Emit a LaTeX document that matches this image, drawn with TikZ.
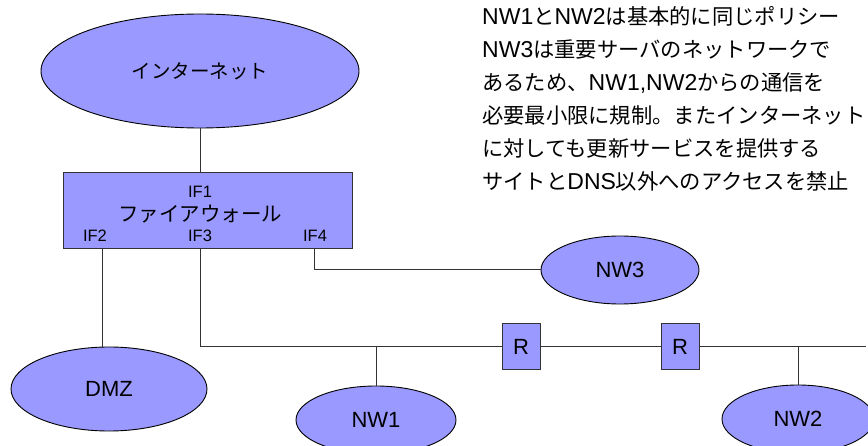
\documentclass[tikz,border=0pt]{standalone}
\usepackage{fontspec}
\setmainfont{Liberation Sans}
\newfontfamily\jp{Noto Sans CJK JP}
\newfontfamily\jpn{Noto Sans CJK JP}[Scale=0.926]
\usetikzlibrary{shapes.geometric}
\definecolor{netfill}{HTML}{9999FF}
\begin{document}
\begin{tikzpicture}[x=1pt,y=-1pt,
  net/.style={ellipse, draw=black, fill=netfill, line width=0.9pt, inner sep=0pt,
    font=\fontsize{22}{26}\selectfont},
  fwbox/.style={rectangle, draw=black!80, fill=netfill, line width=1pt, inner sep=0pt},
  router/.style={rectangle, draw=black!80, fill=netfill, line width=1pt, inner sep=0pt,
    minimum width=38pt, minimum height=46pt, font=\fontsize{22}{26}\selectfont},
  iflab/.style={inner sep=0pt, font=\fontsize{16.5}{19}\selectfont},
  wire/.style={draw=black!80, line width=1pt},
  note/.style={anchor=base west, inner sep=0pt, font=\fontsize{23}{26}\selectfont}]
\useasboundingbox (0,0) rectangle (868,446);

% networks
\node[net, minimum width=318pt, minimum height=114pt] (inet) at (200,71)
  {\jp\fontsize{19.5}{22}\selectfont インターネット};
\node[net, minimum width=158pt, minimum height=68pt] (nw3) at (620,270) {NW3};
\node[net, minimum width=196pt, minimum height=84pt] (dmz) at (109,389) {DMZ};
\node[net, minimum width=160pt, minimum height=68pt] (nw1) at (376,420) {NW1};
\node[net, minimum width=152pt, minimum height=68pt] (nw2) at (798,419) {NW2};

% firewall with its interfaces
\node[fwbox, minimum width=289pt, minimum height=76pt] (fw) at (207.5,211) {};
\node[iflab] (if1) at (200,192) {IF1};
\node[inner sep=0pt, font=\jp\fontsize{20.5}{24}\selectfont] (fwname) at (200,214) {ファイアウォール};
\node[iflab] (if2) at (95,236) {IF2};
\node[iflab] (if3) at (200,236) {IF3};
\node[iflab] (if4) at (315,236) {IF4};
\coordinate (p2) at (102,249);
\coordinate (p3) at (200,249);
\coordinate (p4) at (314,249);

% routers on the backbone
\node[router] (r1) at (521,347) {R};
\node[router] (r2) at (680,347) {R};
\coordinate (busend) at (866,347);

% links
\draw[wire] (inet.south) -- (inet.south |- fw.north);
\draw[wire] (p2) -- (p2 |- dmz.north);
\draw[wire] (p4) |- (nw3.west);
\draw[wire] (p3) |- (r1.west);
\draw[wire] (r1.east) -- (r2.west);
\draw[wire] (r2.east) -- (busend);
\draw[wire] (nw1.north) -- (nw1.north |- r1.west);
\draw[wire] (nw2.north) -- (nw2.north |- r2.west);

% policy note
\node[note] (t1) at (482,25) {NW1{\jpn と}NW2{\jpn は基本的に同じポリシー}};
\node[note] (t2) at (482,58) {NW3{\jpn は重要サーバのネットワークで}};
\node[note] (t3) at (482,91) {{\jpn あるため、}NW1,NW2{\jpn からの通信を}};
\node[note] (t4) at (482,124) {{\jpn 必要最小限に規制。またインターネット}};
\node[note] (t5) at (482,157) {{\jpn に対しても更新サービスを提供する}};
\node[note] (t6) at (482,190) {{\jpn サイトと}DNS{\jpn 以外へのアクセスを禁止}};
\end{tikzpicture}
\end{document}
